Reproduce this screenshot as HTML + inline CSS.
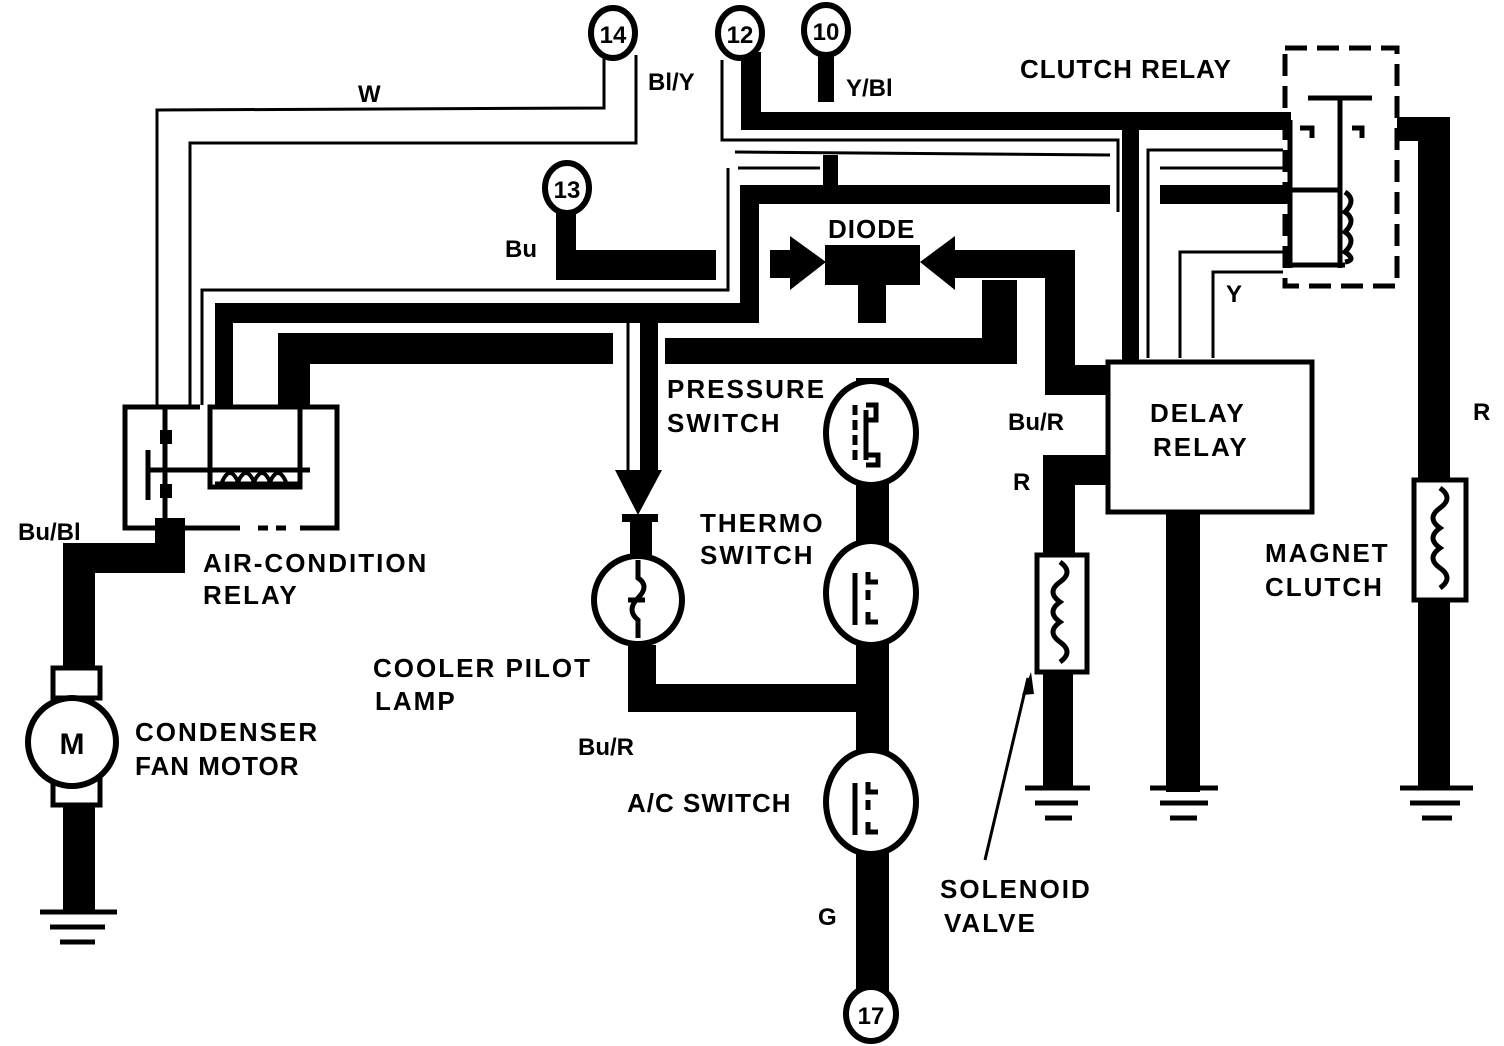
<!DOCTYPE html>
<html><head><meta charset="utf-8"><style>
html,body{margin:0;padding:0;background:#fff;}
svg{display:block}
text{font-family:"Liberation Sans",sans-serif;font-weight:bold;fill:#000;}
</style></head><body>
<svg width="1504" height="1046" viewBox="0 0 1504 1046" xmlns="http://www.w3.org/2000/svg">
<g fill="#000" stroke="none">
<!-- thick from 12 -->
<rect x="741" y="52" width="20" height="78"/>
<rect x="741" y="112" width="550" height="18"/>
<!-- Y/Bl stub -->
<rect x="818" y="52" width="16" height="50"/>
<!-- thick vertical at 1130 -->
<rect x="1122" y="125" width="17" height="235"/>
<!-- thick 13 -->
<rect x="556" y="205" width="20" height="75"/>
<rect x="556" y="250" width="160" height="30"/>
<!-- thick at 740 column -->
<rect x="745" y="185" width="365" height="19"/>
<rect x="1160" y="185" width="123" height="19"/>
<rect x="740" y="185" width="19" height="138"/>
<rect x="215" y="303" width="544" height="20"/>
<rect x="215" y="303" width="18" height="102"/>
<rect x="823" y="155" width="15" height="35"/>
<!-- thick coil wire -->
<rect x="278" y="333" width="335" height="31"/>
<rect x="278" y="333" width="32" height="72"/>
<!-- thick bar mid -->
<rect x="665" y="338" width="350" height="26"/>
<rect x="982" y="280" width="35" height="84"/>
<!-- diode -->
<polygon points="770,250 790,250 790,236 826,262 790,290 790,278 770,278"/>
<rect x="825" y="245" width="95" height="40"/>
<rect x="858" y="245" width="28" height="78"/>
<polygon points="920,262 955,236 955,250 1075,250 1075,278 955,278 955,290"/>
<rect x="1045" y="250" width="30" height="145"/>
<rect x="1045" y="365" width="65" height="30"/>
<!-- R wire to solenoid -->
<rect x="1043" y="455" width="66" height="30"/>
<rect x="1043" y="455" width="32" height="100"/>
<rect x="1043" y="672" width="30" height="118"/>
<!-- delay relay bottom -->
<rect x="1166" y="512" width="34" height="280"/>
<!-- R right -->
<rect x="1397" y="117" width="53" height="24"/>
<rect x="1418" y="117" width="32" height="365"/>
<rect x="1418" y="600" width="32" height="190"/>
<!-- center column -->
<rect x="856" y="378" width="33" height="620"/>
<rect x="628" y="645" width="28" height="67"/>
<rect x="628" y="684" width="240" height="28"/>
<!-- pilot lamp feed -->
<rect x="640" y="323" width="18" height="149"/>
<polygon points="615,470 662,470 638,515"/>
<rect x="622" y="514" width="36" height="8"/>
<rect x="630" y="515" width="22" height="42"/>
<!-- left motor wire -->
<rect x="155" y="518" width="30" height="55"/>
<rect x="63" y="543" width="122" height="30"/>
<rect x="63" y="543" width="32" height="125"/>
<rect x="63" y="800" width="32" height="110"/>
</g>
<!-- thin outlined wires -->
<g fill="none" stroke="#000" stroke-width="3">
<polyline points="604,55 604,108 157,110 157,405"/>
<polyline points="636,55 636,143 190,143 190,405"/>
<polyline points="722,60 722,140 1118,140 1118,212"/>
<polyline points="735,152 1110,155"/>
<polyline points="728,168 728,290 202,290 202,405"/>
<polyline points="738,168 820,168"/>
<polyline points="1283,150 1148,150 1148,358"/>
<polyline points="1283,168 1160,168"/>
<polyline points="1283,252 1180,252 1180,358"/>
<polyline points="1283,272 1213,272 1213,358"/>
<line x1="628" y1="323" x2="628" y2="470"/>
<line x1="1028" y1="678" x2="985" y2="860"/>
</g>
<polygon points="1031,672 1022,695 1034,694"/>
<!-- A/C relay -->
<g fill="none" stroke="#000" stroke-width="5">
<polyline points="200,407 125,407 125,528 240,528"/>
<polyline points="300,407 337,407 337,528 300,528"/>
<line x1="258" y1="528" x2="290" y2="528" stroke-dasharray="10,8"/>
<line x1="240" y1="407" x2="290" y2="407" stroke-dasharray="10,8"/>
<rect x="210" y="407" width="90" height="80"/>
<line x1="148" y1="450" x2="148" y2="500"/>
<line x1="148" y1="470" x2="310" y2="470"/>
<line x1="165" y1="407" x2="165" y2="520"/>
<path d="M222,482 q8,-18 16,0 q8,-18 16,0 q8,-18 16,0 q8,-18 16,0" stroke-width="4"/>
<line x1="215" y1="484" x2="298" y2="484"/>
</g>
<rect x="160" y="430" width="12" height="14"/>
<rect x="160" y="484" width="12" height="14"/>
<!-- motor -->
<rect x="53" y="668" width="47" height="30" fill="#fff" stroke="#000" stroke-width="5"/>
<rect x="53" y="775" width="47" height="30" fill="#fff" stroke="#000" stroke-width="5"/>
<circle cx="72" cy="742" r="44" fill="#fff" stroke="#000" stroke-width="6"/>
<text x="72" y="754" font-size="30" text-anchor="middle">M</text>
<!-- switches and connectors -->
<g fill="#fff" stroke="#000" stroke-width="6">
<ellipse cx="871" cy="433" rx="45" ry="52"/>
<ellipse cx="871" cy="593" rx="45" ry="52"/>
<ellipse cx="871" cy="802" rx="45" ry="52"/>
<circle cx="638" cy="600" r="44"/>
<ellipse cx="871" cy="1014" rx="25" ry="27"/>
<ellipse cx="613" cy="33" rx="22" ry="25"/>
<ellipse cx="740" cy="33" rx="22" ry="25"/>
<ellipse cx="826" cy="30" rx="22" ry="25"/>
<ellipse cx="567" cy="188" rx="22" ry="25"/>
</g>
<g fill="none" stroke="#000" stroke-width="5">
<line x1="855" y1="405" x2="855" y2="465" stroke-dasharray="10,5"/>
<path d="M866,405 h10 v15 h-10 M866,410 v50 M866,455 h12 v10 h-12"/>
<line x1="855" y1="573" x2="855" y2="625"/>
<path d="M868,572 v10 h10 M868,612 v10 h10 M868,590 v10"/>
<line x1="855" y1="783" x2="855" y2="835"/>
<path d="M868,782 v10 h10 M868,822 v10 h10 M868,800 v10"/>
<path d="M638,560 v18 q12,8 0,20 q-12,12 0,22 v18"/>
<line x1="628" y1="600" x2="645" y2="600"/>
</g>
<!-- delay relay -->
<rect x="1108" y="362" width="204" height="150" fill="#fff" stroke="#000" stroke-width="5"/>
<!-- clutch relay -->
<g fill="none" stroke="#000" stroke-width="5">
<rect x="1285" y="48" width="112" height="238" stroke-dasharray="22,10"/>
<line x1="1308" y1="98" x2="1372" y2="98"/>
<line x1="1340" y1="98" x2="1340" y2="268"/>
<line x1="1290" y1="120" x2="1290" y2="268"/>
<path d="M1300,128 h12 v10 M1352,128 h10 v10"/>
<line x1="1290" y1="190" x2="1340" y2="190"/>
<line x1="1290" y1="265" x2="1345" y2="265"/>
<path d="M1345,192 q12,8 0,20 q12,8 0,20 q12,8 0,20 q12,8 0,10"/>
</g>
<!-- solenoid -->
<rect x="1037" y="555" width="50" height="117" fill="#fff" stroke="#000" stroke-width="5"/>
<path d="M1060,562 q14,10 0,20 q-14,10 0,20 q-14,10 0,20 q-14,10 0,20 q14,10 0,20" fill="none" stroke="#000" stroke-width="5"/>
<!-- magnet clutch -->
<rect x="1414" y="480" width="52" height="120" fill="#fff" stroke="#000" stroke-width="5"/>
<path d="M1440,488 q14,10 0,20 q-14,10 0,20 q-14,10 0,20 q-14,10 0,20 q14,10 0,20" fill="none" stroke="#000" stroke-width="5"/>
<!-- grounds -->
<g stroke="#000" stroke-width="5">
<line x1="40" y1="912" x2="117" y2="912"/><line x1="50" y1="927" x2="105" y2="927"/><line x1="60" y1="942" x2="95" y2="942"/>
<line x1="1025" y1="788" x2="1090" y2="788"/><line x1="1035" y1="803" x2="1078" y2="803"/><line x1="1045" y1="818" x2="1072" y2="818"/>
<line x1="1150" y1="788" x2="1218" y2="788"/><line x1="1160" y1="803" x2="1208" y2="803"/><line x1="1170" y1="818" x2="1197" y2="818"/>
<line x1="1400" y1="788" x2="1473" y2="788"/><line x1="1410" y1="803" x2="1460" y2="803"/><line x1="1422" y1="818" x2="1452" y2="818"/>
</g>
<!-- labels -->
<g font-size="26">
<text x="613" y="43" text-anchor="middle" font-size="24">14</text>
<text x="740" y="43" text-anchor="middle" font-size="24">12</text>
<text x="826" y="40" text-anchor="middle" font-size="24">10</text>
<text x="567" y="198" text-anchor="middle" font-size="24">13</text>
<text x="871" y="1024" text-anchor="middle" font-size="24">17</text>
<text x="358" y="102" font-size="24">W</text>
<text x="648" y="90" font-size="24">Bl/Y</text>
<text x="846" y="96" font-size="24">Y/Bl</text>
<text x="505" y="257" font-size="24">Bu</text>
<text x="1020" y="78" letter-spacing="1">CLUTCH RELAY</text>
<text x="828" y="238" letter-spacing="1">DIODE</text>
<text x="1226" y="302" font-size="24">Y</text>
<text x="1473" y="420" font-size="24">R</text>
<text x="1008" y="430" font-size="24">Bu/R</text>
<text x="1013" y="490" font-size="24">R</text>
<text x="1150" y="422" letter-spacing="2">DELAY</text>
<text x="1153" y="456" letter-spacing="2">RELAY</text>
<text x="667" y="398" letter-spacing="2">PRESSURE</text>
<text x="667" y="432" letter-spacing="2">SWITCH</text>
<text x="700" y="532" letter-spacing="2">THERMO</text>
<text x="700" y="564" letter-spacing="2">SWITCH</text>
<text x="1265" y="562" letter-spacing="2">MAGNET</text>
<text x="1265" y="596" letter-spacing="2">CLUTCH</text>
<text x="18" y="540" font-size="24">Bu/Bl</text>
<text x="203" y="572" letter-spacing="2">AIR-CONDITION</text>
<text x="203" y="604" letter-spacing="2">RELAY</text>
<text x="373" y="677" letter-spacing="2">COOLER PILOT</text>
<text x="375" y="710" letter-spacing="2">LAMP</text>
<text x="135" y="741" letter-spacing="2">CONDENSER</text>
<text x="135" y="775" letter-spacing="1">FAN MOTOR</text>
<text x="578" y="755" font-size="24">Bu/R</text>
<text x="627" y="812" letter-spacing="1">A/C SWITCH</text>
<text x="818" y="925" font-size="24">G</text>
<text x="940" y="898" letter-spacing="2">SOLENOID</text>
<text x="944" y="932" letter-spacing="2">VALVE</text>
</g>
</svg>
</body></html>
